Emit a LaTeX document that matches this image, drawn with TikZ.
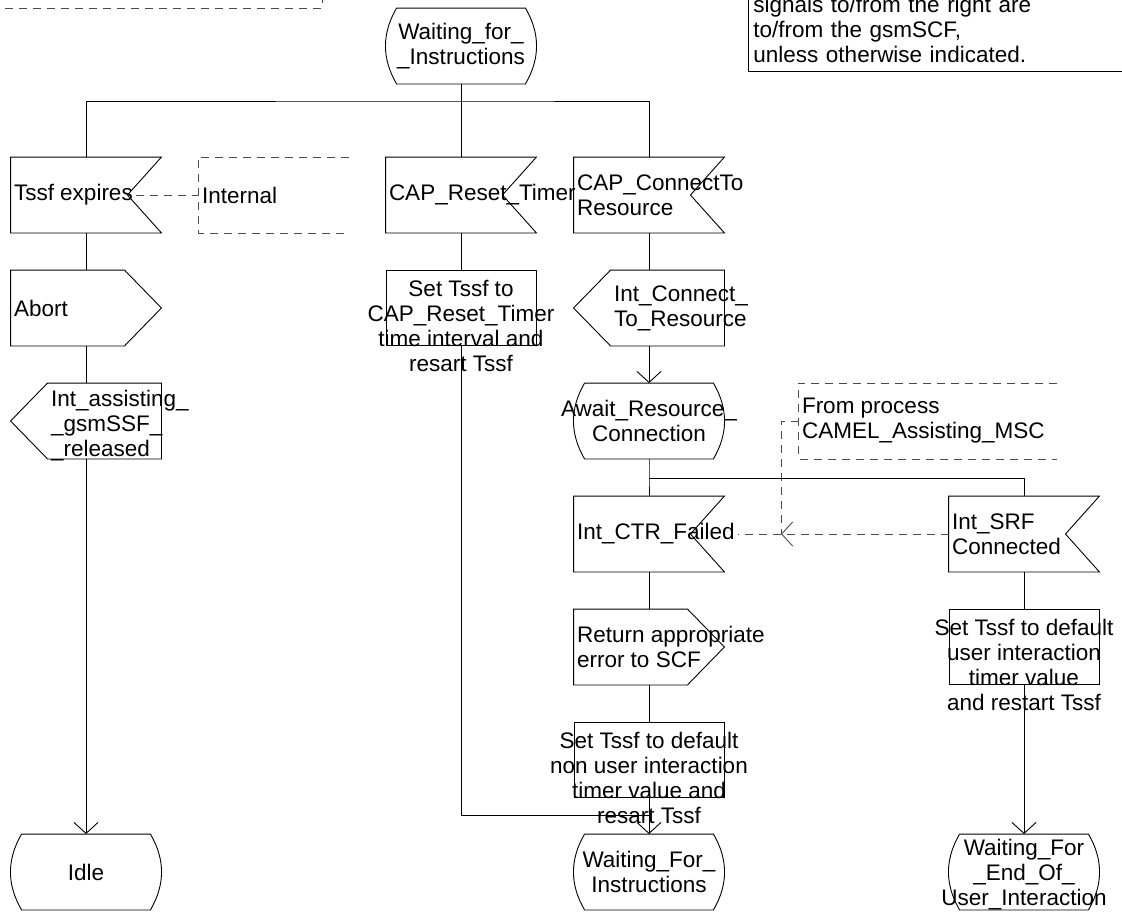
\documentclass[tikz,border=0pt]{standalone}
\usepackage{fontspec}
\setmainfont{Liberation Sans}
\usetikzlibrary{arrows.meta, positioning}

\begin{document}
\begin{tikzpicture}[
  x=1pt, y=-1pt, line width=0.9pt,
  every node/.style={font=\fontsize{22.5}{25}\selectfont},
  sym/.style={minimum width=150pt, minimum height=75pt, inner sep=0pt},
  task/.style={sym, draw},
  inp/.style={sym, append after command={\pgfextra{\draw (\tikzlastnode.north west) -- (\tikzlastnode.north east) -- ([xshift=-34pt]\tikzlastnode.east) -- (\tikzlastnode.south east) -- (\tikzlastnode.south west) -- cycle;}}},
  outr/.style={sym, append after command={\pgfextra{\draw (\tikzlastnode.north west) -- ([xshift=-37pt]\tikzlastnode.north east) -- (\tikzlastnode.east) -- ([xshift=-37pt]\tikzlastnode.south east) -- (\tikzlastnode.south west) -- cycle;}}},
  outl/.style={sym, append after command={\pgfextra{\draw (\tikzlastnode.west) -- ([xshift=37pt]\tikzlastnode.north west) -- (\tikzlastnode.north east) -- (\tikzlastnode.south east) -- ([xshift=37pt]\tikzlastnode.south west) -- cycle;}}},
  stt/.style={minimum width=128pt, minimum height=75pt, inner sep=0pt, append after command={\pgfextra{\draw (\tikzlastnode.north west) -- (\tikzlastnode.north east) to[bend left=30] (\tikzlastnode.south east) -- (\tikzlastnode.south west) to[bend left=30] (\tikzlastnode.north west);}}},
  anno/.style={sym, append after command={\pgfextra{\draw[dashln] (\tikzlastnode.north east) -- (\tikzlastnode.north west) -- (\tikzlastnode.south west) -- (\tikzlastnode.south east);}}},
  txt/.style={inner sep=3pt, align=left},
  ctxt/.style={inner sep=0pt, align=center},
  dashln/.style={dash pattern=on 8pt off 6pt, black!70},
  arr/.style={-{Straight Barb[length=11pt, width=24pt]}}
]
  \useasboundingbox (0,0) rectangle (1122,913);

  \draw[dashln] (322,-5) -- (322,8) -- (5,8);
  \node[draw, anchor=south west, text width=410pt, align=left, inner xsep=5pt, inner ysep=9pt] (cmt) at (748,72) {signals to/from the right are\\to/from the gsmSCF,\\unless otherwise indicated.};

  \node[stt] (wfi) at (461,46) {};
  \node[ctxt] (wfi-t) at (wfi) {Waiting\_for\_\\\_Instructions};

  \node[inp] (tssf) at (86,195) {};
  \node[txt, anchor=west] (tssf-t) at (tssf.west) {Tssf expires};
  \node[anno] (intl) at (274,195) {};
  \node[txt, anchor=west] (intl-t) at (intl.west) {Internal};
  \node[inp] (crt) at (461,195) {};
  \node[txt, anchor=west] (crt-t) at (crt.west) {CAP\_Reset\_Timer};
  \node[inp] (cctr) at (649,195) {};
  \node[txt, anchor=west] (cctr-t) at (cctr.west) {CAP\_ConnectTo\\Resource};

  \node[outr] (abort) at (86,308) {};
  \node[txt, anchor=west] (abort-t) at (abort.west) {Abort};
  \node[task] (crtset) at (461,308) {};
  \node[ctxt, anchor=north] (crtset-t) at ([yshift=-10pt]crtset.north) {Set Tssf to\\CAP\_Reset\_Timer\\time interval and\\resart Tssf};
  \node[outl] (intconn) at (649,308) {};
  \node[txt, anchor=west] (intconn-t) at ([xshift=37pt]intconn.west) {Int\_Connect\_\\To\_Resource};

  \node[outl] (intass) at (86,421) {};
  \node[txt, anchor=west] (intass-t) at ([xshift=37pt, yshift=-5pt]intass.west) {Int\_assisting\_\\\_gsmSSF\_\\\_released};
  \node[stt] (await) at (649,421) {};
  \node[ctxt] (await-t) at (await) {Await\_Resource\_\\Connection};
  \node[anno, minimum width=258pt] (fromp) at (928,421) {};
  \node[txt, anchor=west] (fromp-t) at (fromp.west) {From process\\CAMEL\_Assisting\_MSC};

  \node[inp] (ctrf) at (649,534) {};
  \node[txt, anchor=west] (ctrf-t) at (ctrf.west) {Int\_CTR\_Failed};
  \node[inp] (srf) at (1024,534) {};
  \node[txt, anchor=west] (srf-t) at (srf.west) {Int\_SRF\\Connected};

  \node[outr] (ret) at (649,647) {};
  \node[txt, anchor=west] (ret-t) at (ret.west) {Return appropriate\\error to SCF};
  \node[task] (srfset) at (1024,647) {};
  \node[ctxt, anchor=north] (srfset-t) at ([yshift=-10pt]srfset.north) {Set Tssf to default\\user interaction\\timer value\\and restart Tssf};

  \node[task] (ctrset) at (649,760) {};
  \node[ctxt, anchor=north] (ctrset-t) at ([yshift=-10pt]ctrset.north) {Set Tssf to default\\non user interaction\\timer value and\\resart Tssf};

  \node[stt] (idle) at (86,872) {};
  \node[ctxt] (idle-t) at (idle) {Idle};
  \node[stt] (wfi2) at (649,872) {};
  \node[ctxt] (wfi2-t) at (wfi2) {Waiting\_For\_\\Instructions};
  \node[stt] (wfeui) at (1024,872) {};
  \node[ctxt, yshift=-3pt] (wfeui-t) at (wfeui) {Waiting\_For\\\_End\_Of\_\\User\_Interaction};

  \coordinate (b1) at (461,101);
  \coordinate (b2) at (649,478);
  \coordinate (j1) at (649,815);
  \coordinate (j2) at (781,534);

  \draw (wfi) -- (b1);
  \draw (tssf) |- (b1) -| (cctr);
  \draw (b1) -- (crt);
  \draw (tssf) -- (abort);
  \draw (abort) -- (intass);
  \draw[arr] (intass) -- (idle);
  \draw (crt) -- (crtset);
  \draw (crtset) |- (j1);
  \draw (cctr) -- (intconn);
  \draw[arr] (intconn) -- (await);
  \draw (await) -- (b2) -- (ctrf);
  \draw (b2) -| (srf);
  \draw (ctrf) -- (ret);
  \draw (ret) -- (ctrset);
  \draw[arr] (ctrset) -- (wfi2);
  \draw (srf) -- (srfset);
  \draw[arr] (srfset) -- (wfeui);

  \draw[dashln] (tssf-t) -- (intl);
  \draw[dashln] (fromp) -| (j2);
  \draw[dashln, arr] (srf) -- (j2);
  \draw[dashln] (j2) -- (j2 -| ctrf-t.east);
\end{tikzpicture}
\end{document}
